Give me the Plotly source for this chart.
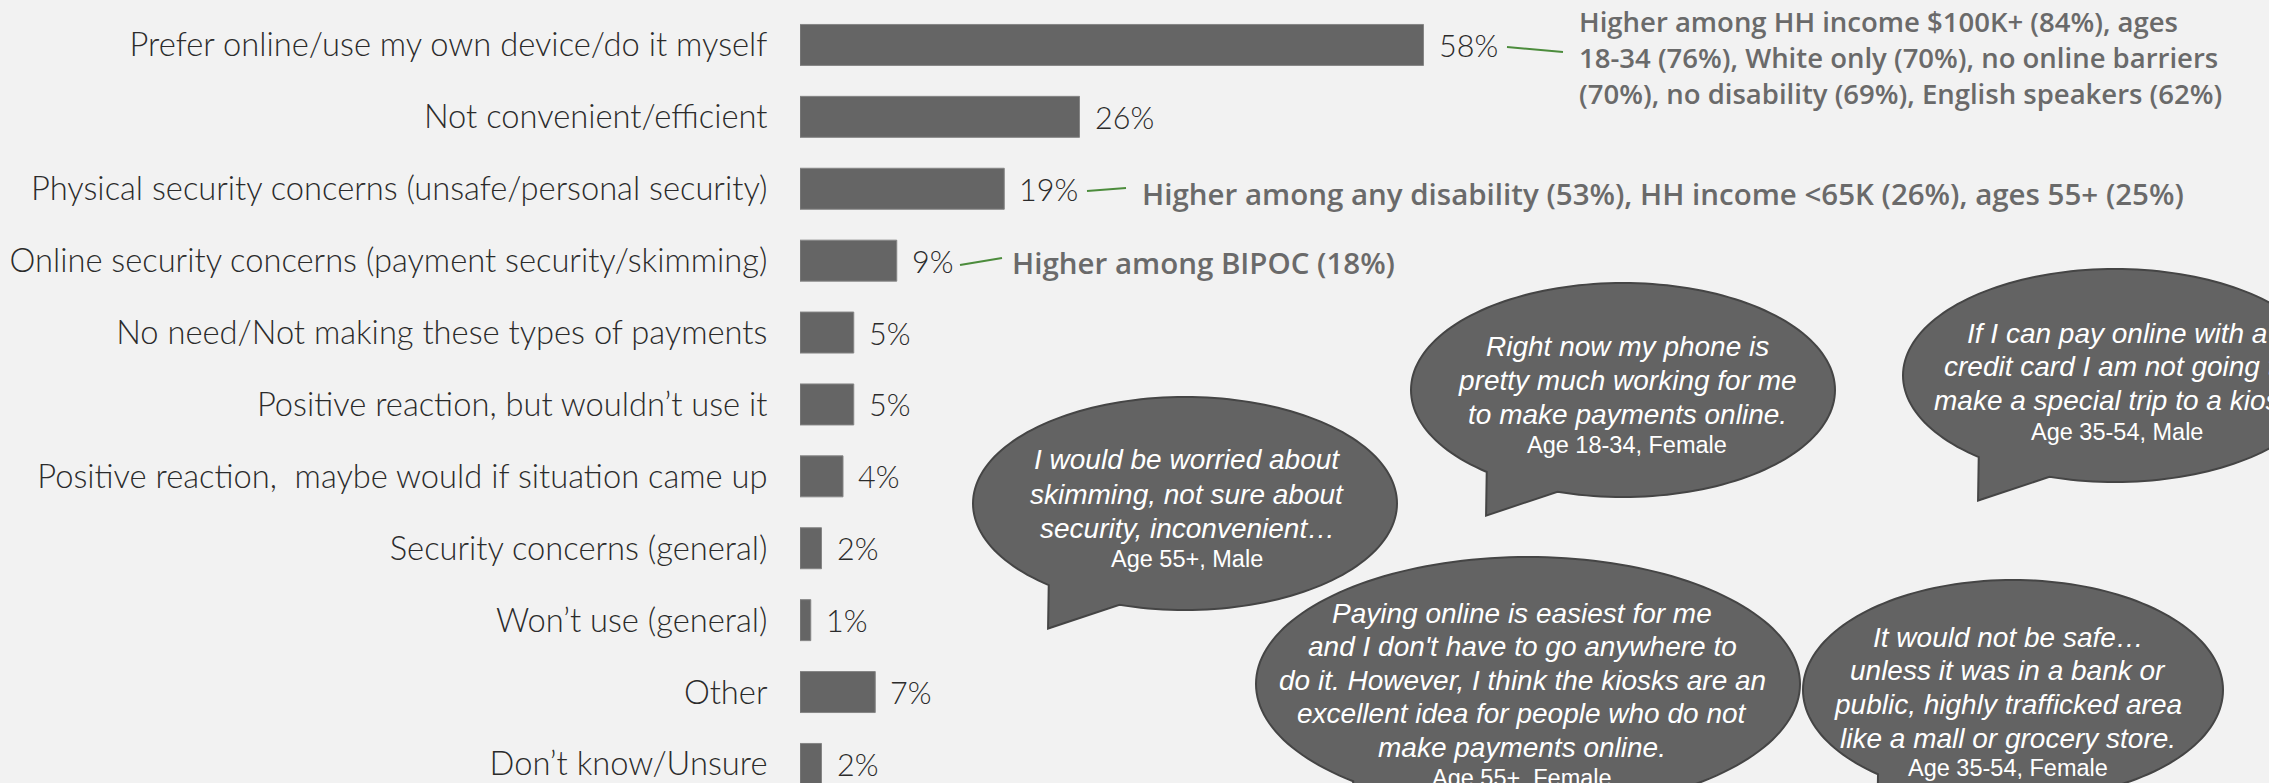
import plotly.graph_objects as go
import math

# ---------------- data ----------------
categories = [
    "Prefer online/use my own device/do it myself",
    "Not convenient/efficient",
    "Physical security concerns (unsafe/personal security)",
    "Online security concerns (payment security/skimming)",
    "No need/Not making these types of payments",
    "Positive reaction, but wouldn’t use it",
    "Positive reaction,\u00a0 maybe would if situation came up",
    "Security concerns (general)",
    "Won’t use (general)",
    "Other",
    "Don’t know/Unsure",
]
values = [58, 26, 19, 9, 5, 5, 4, 2, 1, 7, 2]

callout_1 = ["Higher among HH income $100K+ (84%), ages",
             "18-34 (76%), White only (70%), no online barriers",
             "(70%), no disability (69%), English speakers (62%)"]
callout_2 = ["Higher among any disability (53%), HH income &lt;65K (26%), ages 55+ (25%)"]
callout_3 = ["Higher among BIPOC (18%)"]

quotes = [
    (["I would be worried about", "skimming, not sure about", "security, inconvenient…"], "Age 55+, Male"),
    (["Right now my phone is", "pretty much working for me", "to make payments online."], "Age 18-34, Female"),
    (["If I can pay online with a", "credit card I am not going to", "make a special trip to a kiosk."], "Age 35-54, Male"),
    (["Paying online is easiest for me", "and I don't have to go anywhere to",
      "do it. However, I think the kiosks are an", "excellent idea for people who do not",
      "make payments online."], "Age 55+, Female"),
    (["It would not be safe…", "unless it was in a bank or", "public, highly trafficked area",
      "like a mall or grocery store."], "Age 35-54, Female"),
]

# ---------------- layout geometry ----------------
W, H = 2269, 783
ML, MR, MT, MB = 800, 0, 9, 0
PW, PH = W - ML - MR, H - MT - MB

def xp(px):
    return (px - ML) / PW

def yp(py):
    return 1 - (py - MT) / PH

BG = "#f2f2f2"
BAR = "#656565"
LABEL_FONT = "Lato, Segoe UI, Open Sans, sans-serif"
BOLD_FONT = "Open Sans, Segoe UI, sans-serif"
QUOTE_FONT = "Arial, Liberation Sans, sans-serif"

fig = go.Figure()
fig.add_trace(go.Bar(
    x=values, y=categories, orientation="h",
    marker=dict(color=BAR, line=dict(color="#858585", width=1)),
    width=0.57, hoverinfo="skip",
))

annotations = []
# value labels
for c, v in zip(categories, values):
    annotations.append(dict(
        x=v, y=c, xref="x", yref="y", text=f"{v}%", showarrow=False,
        xanchor="left", yanchor="middle", xshift=13,
        font=dict(family=LABEL_FONT, size=30.5, color="#2b2b2b", weight=300),
    ))

# bold callouts
for lines, (lx, ly), fs in [(callout_1, (1577, 57), 27.5), (callout_2, (1140, 193), 29.5),
                            (callout_3, (1010, 262), 29.5)]:
    annotations.append(dict(
        x=xp(lx), y=yp(ly), xref="paper", yref="paper", text="<br>".join(lines),
        showarrow=False, xanchor="left", yanchor="middle", align="left",
        font=dict(family=BOLD_FONT, size=fs, color="#6a6a6a", weight=600),
    ))

shapes = []
# green connector lines
for (x0, y0, x1, y1) in [(1507, 47, 1563, 52), (1087, 191, 1126, 188), (960, 265, 1002, 258)]:
    shapes.append(dict(type="line", xref="paper", yref="paper",
                       x0=xp(x0), y0=yp(y0), x1=xp(x1), y1=yp(y1),
                       line=dict(color="#4c8c3c", width=2)))

# speech bubbles: (cx, cy, rx, ry) in pixels, text center x, first line y, line step, age y
bubbles = [
    (1185, 503.5, 212, 106.5, 1187, 460, 34, 559),
    (1623, 390, 212, 107, 1627, 347, 33.5, 445),
    (2115, 375.5, 212, 106.5, 2117, 333, 33.5, 432),
    (1528, 684, 272, 127, 1522, 613, 33.5, 778),
    (2013, 690, 210, 110, 2008, 637, 33.7, 768),
]

def bubble_path(cx, cy, rx, ry):
    t_left, t_right = 130, 108
    pts = []
    t = t_left
    while t <= t_right + 360 + 1e-9:
        r = math.radians(t)
        pts.append((cx + rx * math.cos(r), cy + ry * math.sin(r)))
        t += 2
    r = math.radians(t_right + 360)
    pts.append((cx + rx * math.cos(r), cy + ry * math.sin(r)))
    apex = (cx - 0.646 * rx, cy + 1.174 * ry)
    pts.append(apex)
    return "M " + " L ".join(f"{xp(a):.5f},{yp(b):.5f}" for a, b in pts) + " Z"

for (cx, cy, rx, ry, tx, ty0, step, agey), (lines, age) in zip(bubbles, quotes):
    shapes.append(dict(type="path", xref="paper", yref="paper", path=bubble_path(cx, cy, rx, ry),
                       fillcolor="#636363", line=dict(color="#454545", width=2), layer="above"))
    for i, ln in enumerate(lines):
        annotations.append(dict(
            x=xp(tx), y=yp(ty0 + i * step), xref="paper", yref="paper", text=f"<i>{ln}</i>",
            showarrow=False, xanchor="center", yanchor="middle",
            font=dict(family=QUOTE_FONT, size=28, color="#ffffff"),
        ))
    annotations.append(dict(
        x=xp(tx), y=yp(agey), xref="paper", yref="paper", text=age,
        showarrow=False, xanchor="center", yanchor="middle",
        font=dict(family=QUOTE_FONT, size=23.5, color="#ffffff"),
    ))

fig.update_layout(
    width=W, height=H,
    margin=dict(l=ML, r=MR, t=MT, b=MB, pad=0),
    paper_bgcolor=BG, plot_bgcolor=BG,
    showlegend=False,
    xaxis=dict(range=[0, PW / 10.75], visible=False, fixedrange=True),
    yaxis=dict(
        categoryorder="array", categoryarray=categories,
        range=[10.265, -0.5], autorange=False,
        showgrid=False, zeroline=False, showline=False,
        ticks="outside", ticklen=25, tickcolor="rgba(0,0,0,0)",
        tickfont=dict(family=LABEL_FONT, size=32.7, color="#2b2b2b", weight=300),
        fixedrange=True,
    ),
    shapes=shapes, annotations=annotations,
)

fig.write_html(
    "out.html",
    config={"displayModeBar": False},
    post_script="document.body.style.margin='0px';document.body.style.padding='0px';"
                "document.body.style.background='#f2f2f2';document.body.style.overflow='hidden';",
)
